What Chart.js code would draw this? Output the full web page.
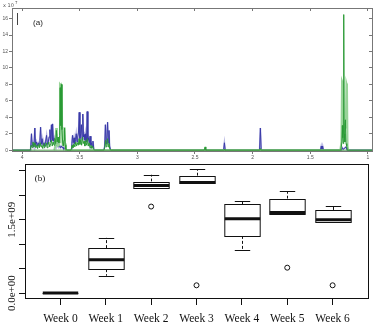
<!DOCTYPE html>
<html>
<head>
<meta charset="utf-8">
<script src="https://cdn.jsdelivr.net/npm/chart.js@4.4.0/dist/chart.umd.min.js"></script>
<style>
  html, body { margin: 0; padding: 0; background: #fff; }
  #wrap { position: relative; width: 380px; height: 327px; overflow: hidden; }
  #specChart { position: absolute; left: 0; top: 0; }
  #boxChart { position: absolute; left: 0; top: 155px; }
</style>
</head>
<body>
<div id="wrap">
  <canvas id="specChart" width="380" height="160"></canvas>
  <canvas id="boxChart" width="380" height="172"></canvas>
</div>
<script>
// Panel (a): overlaid spectra, ppm axis runs right to left (intensity x 10^7)
const ppmTicks = [1, 1.5, 2, 2.5, 3, 3.5, 4];
const intensityTicks = [0, 2, 4, 6, 8, 10, 12, 14, 16];

const blueDarkPpm = [4.087, 3.93, 3.925, 3.918, 3.912, 3.905, 3.897, 3.889, 3.883, 3.876, 3.868, 3.86, 3.852, 3.845, 3.839, 3.833, 3.826, 3.818, 3.81, 3.803, 3.795, 3.787, 3.78, 3.772, 3.765, 3.758, 3.752, 3.745, 3.74, 3.735, 3.728, 3.72, 3.712, 3.705, 3.698, 3.69, 3.683, 3.675, 3.668, 3.66, 3.652, 3.645, 3.638, 3.63, 3.62,
  3.575, 3.568, 3.562, 3.556, 3.549, 3.543, 3.536, 3.53, 3.523, 3.517, 3.51, 3.504, 3.498, 3.491, 3.485, 3.479, 3.473, 3.467, 3.46, 3.454, 3.448, 3.441, 3.435, 3.429, 3.422, 3.416, 3.41, 3.403, 3.397, 3.39, 3.385, 3.378, 3.37,
  3.29, 3.283, 3.277, 3.271, 3.265, 3.258, 3.252, 3.246, 3.24, 3.232,
  2.42, 2.413, 2.405, 2.252, 2.245, 2.238, 1.94, 1.933, 1.926, 1.412, 1.405, 1.399, 1.393, 1.386, 1.23, 1.222, 1.215, 1.19, 1.186, 1.18, 0.965];
const blueDarkInt = [0, 0, 0.3, 2.0, 0.5, 0.8, 0.4, 2.7, 0.6, 1.0, 0.5, 0.9, 0.6, 1.2, 2.8, 0.7, 1.4, 0.6, 0.9, 0.5, 1.1, 1.8, 0.7, 1.0, 1.6, 2.5, 1.0, 3.1, 1.2, 3.2, 1.1, 1.5, 0.8, 2.0, 0.6, 1.0, 0.4, 0.6, 0.3, 0.5, 0.3, 0.4, 0.1, 0.3, 0,
  0, 0.8, 1.8, 0.9, 1.5, 0.8, 1.3, 2.0, 1.0, 1.6, 2.2, 4.6, 1.4, 2.0, 3.1, 1.3, 4.4, 1.6, 1.9, 1.2, 2.0, 1.0, 4.7, 1.2, 1.5, 0.8, 1.7, 0.6, 0.9, 0.4, 1.1, 0.2, 0,
  0, 0.5, 3.1, 0.8, 1.2, 3.4, 0.9, 2.4, 0.5, 0,
  0, 0.1, 0, 0, 0.9, 0, 0, 2.7, 0, 0, 0.5, 0.1, 0.5, 0, 0, 0.3, 0.1, 0.4, 0.2, 0, 0];

const greenDarkPpm = [4.087, 3.93, 3.92, 3.912, 3.905, 3.897, 3.889, 3.88, 3.872, 3.865, 3.857, 3.849, 3.842, 3.835, 3.828, 3.82, 3.812, 3.805, 3.797, 3.79, 3.782, 3.775, 3.768, 3.76, 3.752, 3.745, 3.738, 3.73, 3.722, 3.715, 3.708, 3.702, 3.695, 3.688, 3.68, 3.674, 3.669, 3.664, 3.659, 3.654, 3.648, 3.642, 3.636, 3.631, 3.626, 3.62, 3.61,
  3.575, 3.566, 3.558, 3.55, 3.542, 3.534, 3.527, 3.52, 3.512, 3.505, 3.498, 3.49, 3.483, 3.476, 3.469, 3.462, 3.455, 3.448, 3.44, 3.433, 3.426, 3.418, 3.41, 3.402, 3.395, 3.388, 3.38, 3.37,
  3.29, 3.283, 3.276, 3.27, 3.264, 3.258, 3.252, 3.246, 3.24, 3.232,
  2.42, 2.413, 2.406, 2.25, 2.245, 2.24, 1.94, 1.933, 1.926, 1.235, 1.226, 1.222, 1.218, 1.214, 1.21, 1.206, 1.2, 1.196, 1.19, 1.184, 1.178, 0.965];
const greenDarkInt = [0, 0, 0.6, 0.3, 1.0, 0.4, 0.9, 0.3, 0.6, 0.2, 0.7, 0.3, 0.9, 0.4, 0.6, 0.2, 0.8, 0.3, 0.5, 0.9, 0.3, 0.6, 1.0, 0.4, 0.8, 1.2, 0.5, 1.0, 0.6, 1.4, 0.8, 2.4, 1.0, 1.6, 0.9, 1.8, 7.6, 3.0, 8.0, 2.5, 1.0, 0.5, 1.2, 2.7, 0.6, 0.1, 0,
  0, 0.6, 0.3, 0.8, 0.4, 1.0, 0.5, 0.9, 0.6, 1.4, 0.7, 1.3, 0.6, 1.6, 0.8, 1.1, 0.5, 1.2, 0.6, 1.4, 0.5, 0.9, 0.3, 0.6, 0.2, 0.5, 0.1, 0,
  0, 0.3, 1.2, 0.4, 0.6, 1.4, 0.4, 0.8, 0.2, 0,
  0, 0.4, 0, 0, 0.1, 0, 0, 0.2, 0, 0, 1.0, 3.0, 1.5, 0.8, 16.5, 2.0, 1.0, 3.7, 0.8, 0.5, 0, 0];

const greenLightPpm = [3.72, 3.712, 3.704, 3.698, 3.69, 3.68, 3.675, 3.671, 3.666, 3.661, 3.656, 3.651, 3.645, 3.638, 3.632, 3.627, 3.62,
  1.24, 1.23, 1.225, 1.22, 1.215, 1.207, 1.2, 1.192, 1.187, 1.182, 1.177, 1.17];
const greenLightInt = [0, 0.5, 2.7, 0.8, 0.5, 0.6, 1.0, 8.0, 7.9, 8.0, 7.8, 1.0, 0.5, 1.5, 2.8, 0.8, 0,
  0, 1.0, 8.4, 8.2, 2.0, 3.0, 2.5, 3.0, 8.1, 7.8, 0.5, 0];

const baselinePpm = [4.087, 0.965];
const baselineInt = [0, 0];

// Panel (b): box plot per week
const weeks = ['Week 0', 'Week 1', 'Week 2', 'Week 3', 'Week 4', 'Week 5', 'Week 6'];
const whiskerLow = [0, 0.355e9, 2.14e9, 2.25e9, 0.89e9, 1.62e9, 1.45e9];
const quart1 = [0, 0.49e9, 2.14e9, 2.25e9, 1.17e9, 1.62e9, 1.45e9];
const medians = [0, 0.68e9, 2.20e9, 2.26e9, 1.52e9, 1.65e9, 1.50e9];
const quart3 = [0.004e9, 0.92e9, 2.28e9, 2.40e9, 1.82e9, 1.93e9, 1.70e9];
const whiskerHigh = [0.006e9, 1.13e9, 2.42e9, 2.53e9, 1.89e9, 2.08e9, 1.79e9];
const outlierWeek = [2, 3, 5, 6];
const outlierVal = [1.77e9, 0.16e9, 0.52e9, 0.16e9];
const countTicks = [0, 0.5e9, 1e9, 1.5e9, 2e9, 2.5e9];
const countLabels = { 0: '0.0e+00', 1500000000: '1.5e+09' };

const serif = '"Liberation Serif", "Times New Roman", Times, serif';
const pts = (xs, ys) => xs.map((v, i) => ({ x: v, y: ys[i] }));

const specDecor = {
  id: 'specDecor',
  afterDraw(chart) {
    const { ctx, chartArea } = chart;
    ctx.save();
    ctx.strokeStyle = '#777';
    ctx.lineWidth = 1;
    ctx.strokeRect(chartArea.left + 0.5, chartArea.top + 0.5, chartArea.right - chartArea.left, chartArea.bottom - chartArea.top);
    ctx.fillStyle = '#555';
    ctx.font = '5px "DejaVu Sans", sans-serif';
    ctx.textBaseline = 'alphabetic';
    ctx.fillText('x 10', 3, 7);
    ctx.font = '4px "DejaVu Sans", sans-serif';
    ctx.fillText('7', 15, 4);
    ctx.strokeStyle = '#444';
    ctx.beginPath();
    ctx.moveTo(17.5, 13);
    ctx.lineTo(17.5, 25);
    ctx.stroke();
    ctx.fillStyle = '#222';
    ctx.font = '8px "Liberation Sans", Arial, sans-serif';
    ctx.textAlign = 'center';
    ctx.textBaseline = 'middle';
    ctx.fillText('(a)', 38, 23);
    ctx.restore();
  }
};

new Chart(document.getElementById('specChart'), {
  type: 'line',
  data: {
    datasets: [
      { data: pts(baselinePpm, baselineInt), borderColor: '#4a9a4a', borderWidth: 1, order: 0 },
      { data: pts(greenDarkPpm, greenDarkInt), borderColor: '#2a9a35', borderWidth: 1, order: 1 },
      { data: pts(greenLightPpm, greenLightInt), borderColor: '#98d498', borderWidth: 2, order: 2 },
      { data: pts(blueDarkPpm, blueDarkInt), borderColor: '#3a3aa8', borderWidth: 1, order: 3 },
      { data: pts(blueDarkPpm, blueDarkInt), borderColor: '#b4b4e2', borderWidth: 1.6, order: 4 }
    ]
  },
  options: {
    responsive: false,
    animation: false,
    elements: { point: { radius: 0 }, line: { tension: 0 } },
    layout: { padding: { top: 8, right: 8, left: 0, bottom: 0 } },
    plugins: { legend: { display: false }, tooltip: { enabled: false } },
    scales: {
      x: {
        type: 'linear', reverse: true, min: 0.965, max: 4.087,
        afterBuildTicks: s => { s.ticks = ppmTicks.map(v => ({ value: v })); },
        afterFit: s => { s.height = 9; },
        grid: { drawOnChartArea: false, tickLength: 3, color: '#777' },
        border: { color: '#777' },
        ticks: { padding: 1, color: '#555', font: { size: 5 }, maxRotation: 0, callback: v => String(v) }
      },
      x2: {
        type: 'linear', position: 'top', reverse: true, min: 0.965, max: 4.087,
        afterBuildTicks: s => { s.ticks = ppmTicks.map(v => ({ value: v })); },
        afterFit: s => { s.height = 0; },
        grid: { drawOnChartArea: false, tickLength: -3, color: '#777' },
        border: { color: '#777' },
        ticks: { display: false }
      },
      y: {
        min: -0.1, max: 17.3,
        afterBuildTicks: s => { s.ticks = intensityTicks.map(v => ({ value: v })); },
        afterFit: s => { s.width = 12; },
        grid: { drawOnChartArea: false, tickLength: 3, color: '#777' },
        border: { color: '#777' },
        ticks: { padding: 1, color: '#555', font: { size: 5 } }
      },
      y2: {
        position: 'right', min: -0.1, max: 17.3,
        afterBuildTicks: s => { s.ticks = intensityTicks.map(v => ({ value: v })); },
        afterFit: s => { s.width = 0; },
        grid: { drawOnChartArea: false, tickLength: -3, color: '#777' },
        border: { color: '#777' },
        ticks: { display: false }
      }
    }
  },
  plugins: [specDecor]
});

const boxDraw = {
  id: 'boxDraw',
  afterDatasetsDraw(chart) {
    const { ctx, chartArea, scales: { x, y } } = chart;
    const half = x.getPixelForValue(0.39) - x.getPixelForValue(0);
    const cap = x.getPixelForValue(0.17) - x.getPixelForValue(0);
    ctx.save();
    ctx.strokeStyle = '#111';
    weeks.forEach((w, i) => {
      const cx = Math.round(x.getPixelForValue(i)) + 0.5;
      const yLo = y.getPixelForValue(whiskerLow[i]);
      const yQ1 = y.getPixelForValue(quart1[i]);
      const yMed = y.getPixelForValue(medians[i]);
      const yQ3 = y.getPixelForValue(quart3[i]);
      const yHi = y.getPixelForValue(whiskerHigh[i]);
      ctx.lineWidth = 1;
      ctx.setLineDash([3, 2]);
      ctx.beginPath();
      ctx.moveTo(cx, yQ3); ctx.lineTo(cx, yHi);
      ctx.moveTo(cx, yQ1); ctx.lineTo(cx, yLo);
      ctx.stroke();
      ctx.setLineDash([]);
      ctx.beginPath();
      ctx.moveTo(cx - cap, Math.round(yHi) + 0.5); ctx.lineTo(cx + cap, Math.round(yHi) + 0.5);
      ctx.moveTo(cx - cap, Math.round(yLo) + 0.5); ctx.lineTo(cx + cap, Math.round(yLo) + 0.5);
      ctx.stroke();
      ctx.fillStyle = '#fff';
      ctx.fillRect(cx - half, yQ3, half * 2, yQ1 - yQ3);
      ctx.strokeRect(cx - half, Math.round(yQ3) + 0.5, half * 2, Math.round(yQ1) - Math.round(yQ3));
      ctx.lineWidth = 3;
      ctx.beginPath();
      ctx.moveTo(cx - half, yMed); ctx.lineTo(cx + half, yMed);
      ctx.stroke();
    });
    ctx.lineWidth = 1;
    ctx.strokeRect(chartArea.left + 0.5, chartArea.top + 0.5, chartArea.right - chartArea.left, chartArea.bottom - chartArea.top);
    // rotated y labels
    ctx.fillStyle = '#111';
    ctx.font = '11px ' + serif;
    ctx.textAlign = 'center';
    ctx.textBaseline = 'middle';
    countTicks.forEach(v => {
      const lab = countLabels[v];
      if (!lab) return;
      ctx.save();
      ctx.translate(12, y.getPixelForValue(v));
      ctx.rotate(-Math.PI / 2);
      ctx.fillText(lab, 0, 0);
      ctx.restore();
    });
    ctx.font = '9px ' + serif;
    ctx.fillText('(b)', 40, 24);
    ctx.restore();
  }
};

new Chart(document.getElementById('boxChart'), {
  type: 'scatter',
  data: {
    datasets: [{
      data: pts(outlierWeek, outlierVal),
      pointRadius: 2.5,
      pointBorderWidth: 1,
      pointBorderColor: '#111',
      pointBackgroundColor: '#fff'
    }]
  },
  options: {
    responsive: false,
    animation: false,
    layout: { padding: { top: 9, right: 12, left: 0, bottom: 0 } },
    plugins: { legend: { display: false }, tooltip: { enabled: false } },
    scales: {
      x: {
        type: 'linear', min: -0.78, max: 6.78,
        afterBuildTicks: s => { s.ticks = weeks.map((w, i) => ({ value: i })); },
        afterFit: s => { s.height = 29; },
        grid: { drawOnChartArea: false, tickLength: 7, color: '#111' },
        border: { color: '#111' },
        ticks: {
          padding: 7, color: '#111', maxRotation: 0, autoSkip: false,
          font: { size: 11.5, family: serif },
          callback: v => weeks[v]
        }
      },
      y: {
        min: -0.1e9, max: 2.64e9,
        afterBuildTicks: s => { s.ticks = countTicks.map(v => ({ value: v })); },
        afterFit: s => { s.width = 25; },
        grid: { drawOnChartArea: false, tickLength: 6, color: '#111' },
        border: { color: '#111' },
        ticks: { display: false }
      }
    }
  },
  plugins: [boxDraw]
});
</script>
</body>
</html>
